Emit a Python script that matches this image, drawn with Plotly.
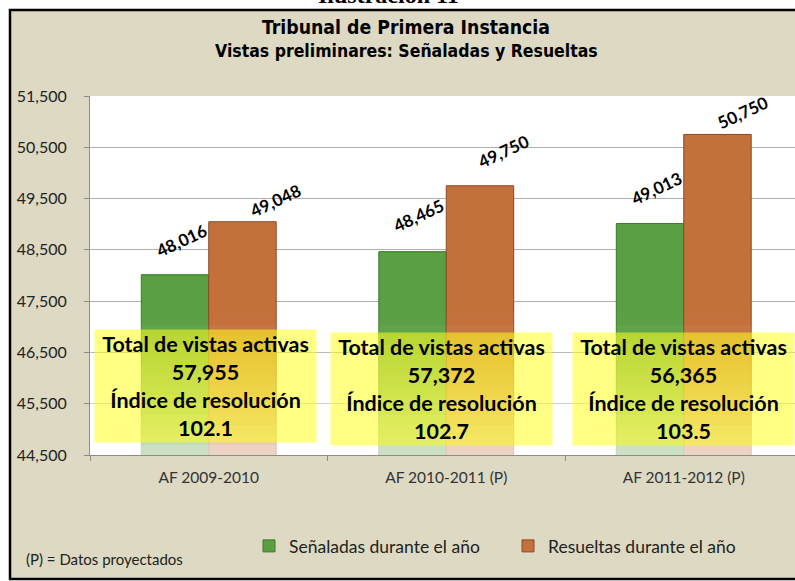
import plotly.graph_objects as go

# ---------------- data ----------------
categories = ["AF 2009-2010", "AF 2010-2011 (P)", "AF 2011-2012 (P)"]
senaladas = [48016, 48465, 49013]
resueltas = [49048, 49750, 50750]
total_activas = [57955, 57372, 56365]
indice_resolucion = [102.1, 102.7, 103.5]
series_names = ["Señaladas durante el año", "Resueltas durante el año"]
y_min, y_max, y_step = 44500, 51500, 1000

title_1 = "Tribunal de Primera Instancia"
title_2 = "Vistas preliminares: Señaladas y Resueltas"
top_caption = "Ilustración 11"
footnote = "(P) = Datos proyectados"

# ---------------- layout geometry (pixels) ----------------
W, H = 795, 581
L, T, RX, B = 90, 96, 795, 455
PW, PH = RX - L, B - T
CAT_PX = 237.5
BAR_PX = 67.5


def pxx(x):
    return (x - L) / PW


def pxy(y):
    return (B - y) / PH


# label offsets (style): (dx, dy) from bar-top centre, pixels
green_label_shift = [(6.5, 34), (6, 36), (6, 35)]
orange_label_shift = [(33, 21), (23, 34), (25, 22)]
box_shift_x = [-3, -4.5, 0]
box_center_y = [386, 389, 389]

GREEN = "#5a9f42"
GREEN_LINE = "#3d7a2a"
ORANGE = "#c4703b"
ORANGE_LINE = "#8c4a20"
BEIGE = "#ddd9c3"
FONT = "Lato"
TITLE_FONT = "DejaVu Sans Condensed, DejaVu Sans"

fig = go.Figure()
fig.add_trace(go.Bar(
    x=categories, y=senaladas, name=series_names[0],
    marker=dict(color=GREEN, line=dict(color=GREEN_LINE, width=1)),
))
fig.add_trace(go.Bar(
    x=categories, y=resueltas, name=series_names[1],
    marker=dict(color=ORANGE, line=dict(color=ORANGE_LINE, width=1)),
))

annotations = []
for i, c in enumerate(categories):
    dx, dy = green_label_shift[i]
    annotations.append(dict(
        x=c, y=senaladas[i], xref="x", yref="y", text=f"<b>{senaladas[i]:,}</b>",
        showarrow=False, textangle=-25, xanchor="center", yanchor="middle",
        xshift=-BAR_PX / 2 + dx, yshift=dy,
        font=dict(family=FONT, size=17, color="black"),
    ))
    dx, dy = orange_label_shift[i]
    annotations.append(dict(
        x=c, y=resueltas[i], xref="x", yref="y", text=f"<b>{resueltas[i]:,}</b>",
        showarrow=False, textangle=-25, xanchor="center", yanchor="middle",
        xshift=BAR_PX / 2 + dx, yshift=dy,
        font=dict(family=FONT, size=17, color="black"),
    ))
    annotations.append(dict(
        x=c, y=pxy(box_center_y[i]), xref="x", yref="paper",
        text=(f"<b>Total de vistas activas<br>{total_activas[i]:,}<br>"
              f"Índice de resolución<br>{indice_resolucion[i]:.1f}</b>"),
        showarrow=False, xanchor="center", yanchor="middle", xshift=box_shift_x[i],
        width=221, height=112, borderpad=0, align="center", valign="middle",
        bgcolor="rgba(255,255,30,0.55)",
        font=dict(family=FONT, size=21.5, color="black"),
    ))

annotations.append(dict(
    x=pxx(406), y=pxy(27), xref="paper", yref="paper", text=title_1,
    showarrow=False, xanchor="center", yanchor="middle",
    font=dict(family=TITLE_FONT, size=19.3, color="black", weight="bold"),
))
annotations.append(dict(
    x=pxx(406), y=pxy(51), xref="paper", yref="paper", text=title_2,
    showarrow=False, xanchor="center", yanchor="middle",
    font=dict(family=TITLE_FONT, size=17.5, color="black", weight="bold"),
))
annotations.append(dict(
    x=pxx(388), y=pxy(-5), xref="paper", yref="paper", text=f"<b>{top_caption}</b>",
    showarrow=False, xanchor="center", yanchor="middle",
    font=dict(family="Liberation Serif", size=24, color="black"),
))
annotations.append(dict(
    x=pxx(24), y=pxy(559), xref="paper", yref="paper", text=footnote,
    showarrow=False, xanchor="left", yanchor="middle",
    font=dict(family=FONT, size=15, color="#222"),
))

shapes = [
    dict(type="rect", xref="paper", yref="paper", layer="below",
         x0=pxx(10), x1=pxx(805), y0=pxy(579), y1=pxy(10),
         fillcolor=BEIGE, line=dict(color="black", width=2.5)),
    dict(type="rect", xref="paper", yref="paper", layer="below",
         x0=0, x1=1.02, y0=0, y1=1,
         fillcolor="white", line=dict(width=0)),
]
# soft light fading of the bars towards the axis (lighting effect)
N_BANDS, BAND_TOP = 14, 315
band_h = (B - BAND_TOP) / N_BANDS
for k in range(N_BANDS):
    a = 0.72 * (1 - (k + 0.5) / N_BANDS) ** 1.2
    shapes.append(dict(
        type="rect", xref="paper", yref="paper", layer="above",
        x0=0, x1=1, y0=pxy(B - k * band_h), y1=pxy(B - (k + 1) * band_h),
        fillcolor=f"rgba(255,255,255,{a:.3f})", line=dict(width=0),
    ))

fig.update_layout(
    width=W, height=H,
    margin=dict(l=L, r=W - RX, t=T, b=H - B, autoexpand=False),
    paper_bgcolor="white", plot_bgcolor="rgba(0,0,0,0)",
    barmode="group", bargap=0.432, bargroupgap=0,
    showlegend=True,
    legend=dict(orientation="h", x=pxx(249), y=pxy(546), xanchor="left", yanchor="middle",
                font=dict(family=FONT, size=17.5, color="#222"), bgcolor="rgba(0,0,0,0)",
                entrywidth=214, traceorder="normal"),
    annotations=annotations,
    shapes=shapes,
    font=dict(family=FONT),
)
fig.update_xaxes(
    range=[-0.5, -0.5 + PW / CAT_PX], showgrid=False,
    showline=True, linecolor="#8c8c8c", linewidth=1,
    ticks="outside", tickson="boundaries", ticklen=5, tickcolor="#8c8c8c",
    ticklabelstandoff=8,
    tickfont=dict(family=FONT, size=15.5, color="#333"),
)
fig.update_yaxes(
    range=[y_min, y_max], tick0=y_min, dtick=y_step, tickformat=",",
    showgrid=True, gridcolor="#b0b0b0", gridwidth=1,
    showline=True, linecolor="#8c8c8c", linewidth=1,
    ticks="outside", ticklen=5, tickcolor="#8c8c8c", ticklabelstandoff=14,
    tickfont=dict(family=FONT, size=16, color="#222"),
    zeroline=False,
)

fig.write_html("out.html", config={"displayModeBar": False},
               post_script="document.body.style.margin='0';document.body.style.overflow='hidden';")
